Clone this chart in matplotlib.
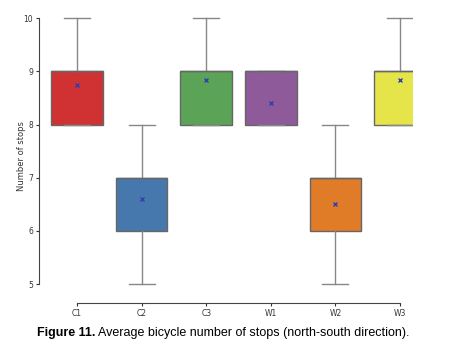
import matplotlib
matplotlib.use("Agg")
import matplotlib.pyplot as plt

categories = ["C1", "C2", "C3", "W1", "W2", "W3"]
q1 = [8, 6, 8, 8, 6, 8]
medians = [9, 7, 9, 9, 7, 9]
q3 = [9, 7, 9, 9, 7, 9]
whis_lo = [8, 5, 8, 8, 5, 8]
whis_hi = [10, 8, 10, 9, 8, 10]
means = [8.74, 6.59, 8.83, 8.41, 6.5, 8.83]
colors = ["#D03234", "#4678AE", "#5BA356", "#8F5A9A", "#E07B28", "#E5E54A"]

fig = plt.figure(figsize=(4.51, 3.6), dpi=100)
ax = fig.add_axes([0.0991, 0.174, 0.8165, 0.783])

stats = []
for i, c in enumerate(categories):
    stats.append(dict(label=c, q1=q1[i], med=medians[i], q3=q3[i],
                      whislo=whis_lo[i], whishi=whis_hi[i], mean=means[i], fliers=[]))

bp = ax.bxp(stats, positions=range(len(categories)), widths=0.8, patch_artist=True,
            showmeans=True, showfliers=False,
            boxprops=dict(edgecolor="#666666", linewidth=1.0),
            whiskerprops=dict(color="#888888", linewidth=1.0),
            capprops=dict(color="#888888", linewidth=1.0),
            medianprops=dict(color="#666666", linewidth=1.0),
            meanprops=dict(marker="x", markeredgecolor="#3040B0", markersize=3, markeredgewidth=1.0))
for patch, col in zip(bp["boxes"], colors):
    patch.set_facecolor(col)
for cap in bp["caps"]:
    x = cap.get_xdata()
    cx = (x[0] + x[1]) / 2
    cap.set_xdata([cx - 0.2, cx + 0.2])

ax.set_xlim(-0.5, 5.2)
ax.set_ylim(4.75, 10.05)
ax.set_xticks(range(len(categories)))
ax.set_xticklabels(categories)
ax.set_yticks([5, 6, 7, 8, 9, 10])
ax.tick_params(labelsize=5.5, colors="#333333", length=2.5, width=0.8, pad=2)
ax.spines["top"].set_visible(False)
ax.spines["right"].set_visible(False)
ax.spines["left"].set_bounds(5, 10)
ax.spines["bottom"].set_bounds(0, 5)
ax.spines["left"].set_color("#444444")
ax.spines["bottom"].set_color("#444444")
ax.spines["left"].set_position(("outward", 4))
ax.spines["bottom"].set_position(("outward", 4))
ax.set_ylabel("Number of stops", fontsize=6, color="#333333")
ax.yaxis.set_label_coords(-0.05, 0.5)

fam = ["Liberation Sans", "DejaVu Sans"]
fs = 9
t1 = fig.text(37 / 451, 0.075, "Figure 11.", fontsize=fs, fontweight="bold", family=fam,
              ha="left", va="center")
fig.canvas.draw()
bb = t1.get_window_extent(renderer=fig.canvas.get_renderer())
x2 = (bb.x1 + 3) / fig.bbox.width
fig.text(x2, 0.075, "Average bicycle number of stops (north-south direction).", fontsize=fs,
         family=fam, ha="left", va="center")

fig.savefig("out.png", dpi=100)
